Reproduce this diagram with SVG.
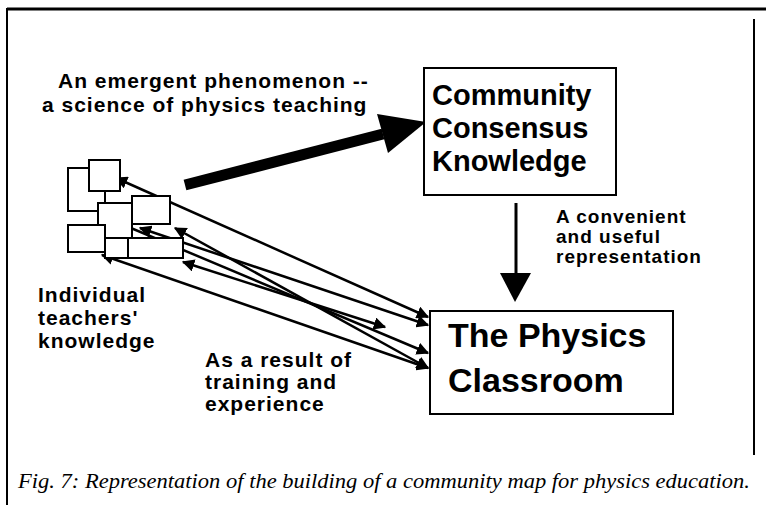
<svg xmlns="http://www.w3.org/2000/svg" width="766" height="505" viewBox="0 0 766 505">
<defs>
<style>
.lbl{font-family:"Liberation Sans",Arial,sans-serif;font-weight:bold;font-size:21px;letter-spacing:1px;fill:#000}
.sm{font-size:19px}
.big{font-family:"Liberation Sans",Arial,sans-serif;font-weight:bold;fill:#000}
.box{fill:#fff;stroke:#000;stroke-width:2}
.sq{fill:#fff;stroke:#000;stroke-width:2}
.ln{stroke:#000;stroke-width:2.5;fill:none;marker-start:url(#ah);marker-end:url(#ah)}
.cap{font-family:"Liberation Serif","Times New Roman",serif;font-style:italic;font-size:20px;fill:#000}
</style>
<marker id="ah" viewBox="0 0 10 10" refX="9" refY="5" markerWidth="5" markerHeight="5" orient="auto-start-reverse" markerUnits="strokeWidth">
<path d="M0,0 L10,5 L0,10 z" fill="#000"/>
</marker>
</defs>
<rect width="766" height="505" fill="#fff"/>
<g id="frame" stroke="#000" fill="none">
<line x1="7" y1="9" x2="766" y2="9" stroke-width="3"/>
<line x1="7" y1="8" x2="7" y2="505" stroke-width="2"/>
<line x1="754" y1="19" x2="754" y2="455" stroke-width="2"/>
</g>
<g id="connectors">
<line x1="185" y1="185" x2="383" y2="134" stroke="#000" stroke-width="11"/>
<polygon points="426,122 377,114 388,153" fill="#000"/>
<line x1="516" y1="203" x2="516" y2="275" stroke="#000" stroke-width="3"/>
<polygon points="500,273 531,273 515,302" fill="#000"/>
<line class="ln" x1="116" y1="178" x2="428" y2="317"/>
<line class="ln" x1="100" y1="215" x2="428" y2="353"/>
<line class="ln" x1="140" y1="228" x2="428" y2="325"/>
<line class="ln" x1="175" y1="228" x2="428" y2="368"/>
<line class="ln" x1="102" y1="255" x2="428" y2="368"/>
<line class="ln" x1="183" y1="262" x2="385" y2="327"/>
</g>
<g id="cluster">
<rect class="sq" x="68" y="168" width="37" height="43"/>
<rect class="sq" x="89" y="160" width="31" height="31"/>
<rect class="sq" x="98" y="203" width="34" height="35"/>
<rect class="sq" x="132" y="196" width="38" height="28"/>
<rect class="sq" x="68" y="225" width="37" height="27"/>
<rect class="sq" x="105" y="238" width="23" height="20"/>
<rect class="sq" x="128" y="238" width="55" height="20"/>
</g>
<g id="community">
<rect class="box" x="424" y="68" width="192" height="127"/>
<text class="big" font-size="29" x="432" y="105">Community</text>
<text class="big" font-size="29" x="432" y="138">Consensus</text>
<text class="big" font-size="29" x="432" y="171">Knowledge</text>
</g>
<g id="classroom">
<rect class="box" x="430" y="311" width="243" height="103"/>
<text class="big" font-size="34" x="448" y="347">The Physics</text>
<text class="big" font-size="34" x="448" y="392">Classroom</text>
</g>
<g id="labels">
<text class="lbl" x="58" y="88">An emergent phenomenon --</text>
<text class="lbl" x="42" y="112">a science of physics teaching</text>
<text class="lbl sm" x="556" y="223">A convenient</text>
<text class="lbl sm" x="556" y="243">and useful</text>
<text class="lbl sm" x="556" y="263">representation</text>
<text class="lbl" font-size="20" x="38" y="302">Individual</text>
<text class="lbl" font-size="20" x="38" y="325">teachers'</text>
<text class="lbl" font-size="20" x="38" y="348">knowledge</text>
<text class="lbl" x="205" y="367">As a result of</text>
<text class="lbl" x="205" y="389">training and</text>
<text class="lbl" x="205" y="411">experience</text>
</g>
<text class="cap" x="18" y="488" textLength="732" lengthAdjust="spacingAndGlyphs">Fig. 7: Representation of the building of a community map for physics education.</text>
</svg>
